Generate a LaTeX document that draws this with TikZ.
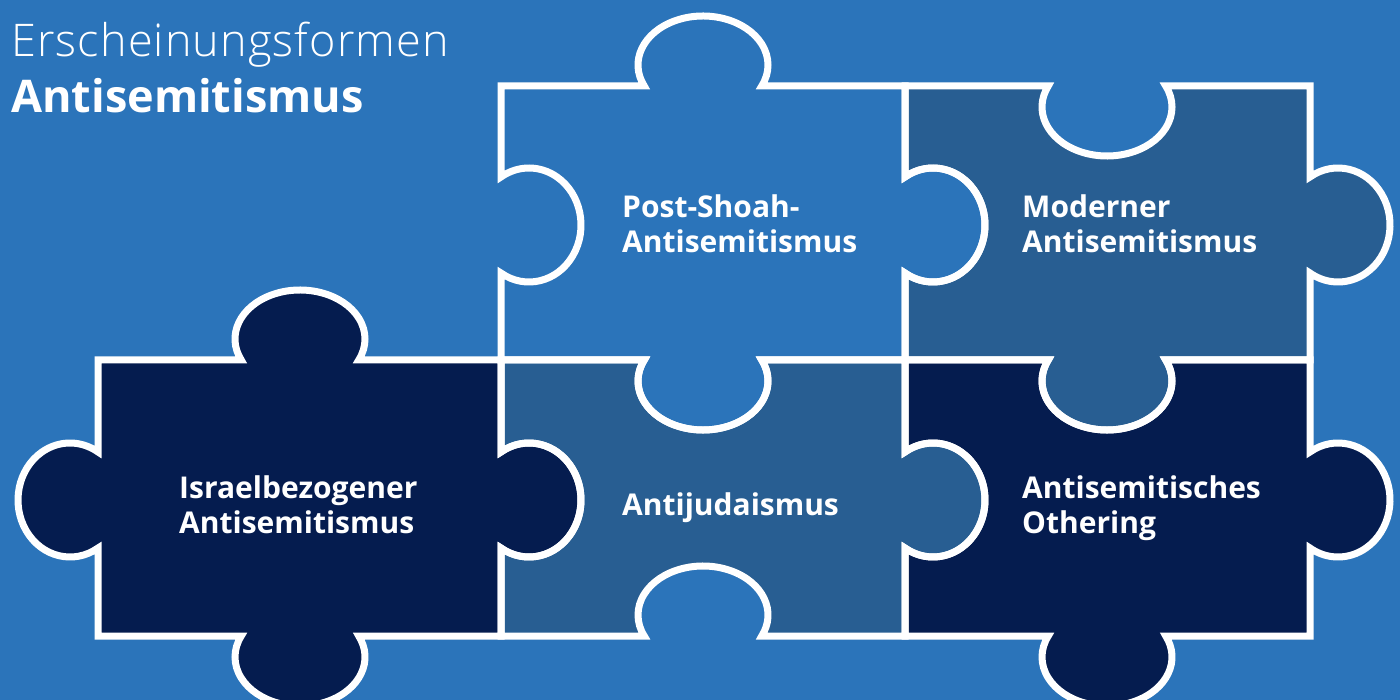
\documentclass[tikz,border=0pt]{standalone}
\usepackage{fontspec}
\setmainfont{Open Sans}
\newfontfamily\lightfont{Open Sans Light}[LetterSpace=2.5]
\definecolor{bgblue}{RGB}{43,116,186}
\definecolor{midblue}{RGB}{40,94,146}
\definecolor{darkblue}{RGB}{5,28,79}
% tab geometry (pixels)
\pgfmathsetmacro\va{65}\pgfmathsetmacro\vb{49}\pgfmathsetmacro\vd{21}
\pgfmathsetmacro\valpha{asin(\vd/\vb)}\pgfmathsetmacro\vn{\va*cos(\valpha)}
\pgfmathsetmacro\ha{57}\pgfmathsetmacro\hb{52}\pgfmathsetmacro\hd{28}
\pgfmathsetmacro\halpha{asin(\hd/\hb)}\pgfmathsetmacro\hn{\ha*cos(\halpha)}
\def\topOut#1#2{-- ({#2-\vn},#1) arc[start angle={180-\valpha}, end angle={360+\valpha}, x radius=\va, y radius=\vb]}
\def\topIn#1#2{-- ({#2-\vn},#1) arc[start angle={180+\valpha}, end angle={-\valpha}, x radius=\va, y radius=\vb]}
\def\rightOut#1#2{-- (#1,{#2-\hn}) arc[start angle={-90-\halpha}, end angle={90+\halpha}, x radius=\hb, y radius=\ha]}
\def\bottomOut#1#2{-- ({#2+\vn},#1) arc[start angle={-\valpha}, end angle={180+\valpha}, x radius=\va, y radius=\vb]}
\def\bottomIn#1#2{-- ({#2+\vn},#1) arc[start angle={\valpha}, end angle={-180-\valpha}, x radius=\va, y radius=\vb]}
\def\leftOut#1#2{-- (#1,{#2+\hn}) arc[start angle={90-\halpha}, end angle={270+\halpha}, x radius=\hb, y radius=\ha]}
\def\leftIn#1#2{-- (#1,{#2+\hn}) arc[start angle={90+\halpha}, end angle={-90-\halpha}, x radius=\hb, y radius=\ha]}
% pieces
\def\PSpath{(501,86) \topOut{86}{703} -- (905,86) \rightOut{905}{225} -- (905,360) \bottomOut{360}{703} -- (501,360) \leftIn{501}{225} -- cycle}
\def\MOpath{(905,86) \topIn{86}{1107} -- (1310,86) \rightOut{1310}{225} -- (1310,360) \bottomOut{360}{1107} -- (905,360) \leftIn{905}{225} -- cycle}
\def\ISpath{(98,360) \topOut{360}{300} -- (501,360) \rightOut{501}{500} -- (501,636) \bottomOut{636}{300} -- (98,636) \leftOut{98}{500} -- cycle}
\def\AJpath{(501,360) \topIn{360}{703} -- (905,360) \rightOut{905}{500} -- (905,636) \bottomIn{636}{703} -- (501,636) \leftIn{501}{500} -- cycle}
\def\OTpath{(905,360) \topIn{360}{1107} -- (1310,360) \rightOut{1310}{500} -- (1310,636) \bottomOut{636}{1107} -- (905,636) \leftIn{905}{500} -- cycle}
\begin{document}
\begin{tikzpicture}[x=1pt,y=-1pt,
  outline/.style={draw=white,line width=7pt,line join=miter},
  lbl/.style={text=white,inner sep=0pt,align=left,anchor=base west,
    font=\fontsize{30}{35}\selectfont\bfseries}]
\useasboundingbox (0,0) rectangle (1400,700);
\fill[bgblue] (0,0) rectangle (1400,700);
% fills
\fill[bgblue] \PSpath;
\fill[midblue] \MOpath;
\fill[darkblue] \ISpath;
\fill[midblue] \AJpath;
\fill[darkblue] \OTpath;
% outlines
\path[outline] \PSpath;
\path[outline] \MOpath;
\path[outline] \ISpath;
\path[outline] \AJpath;
\path[outline] \OTpath;
% labels (base anchor = baseline of the last line)
\node[lbl] (ps) at (622,253) {Post-Shoah-\\Antisemitismus};
\node[lbl] (mo) at (1022,253) {Moderner\\Antisemitismus};
\node[lbl] (is) at (179,533) {Israelbezogener\\Antisemitismus};
\node[lbl] (aj) at (622,515) {Antijudaismus};
\node[lbl] (ot) at (1022,533) {Antisemitisches\\Othering};
\node[text=white,inner sep=0pt,align=left,anchor=base west,
  font=\fontsize{45}{56}\selectfont] (title) at (11,113)
  {{\lightfont Erscheinungsformen}\\{\bfseries Antisemitismus}};
\end{tikzpicture}
\end{document}
